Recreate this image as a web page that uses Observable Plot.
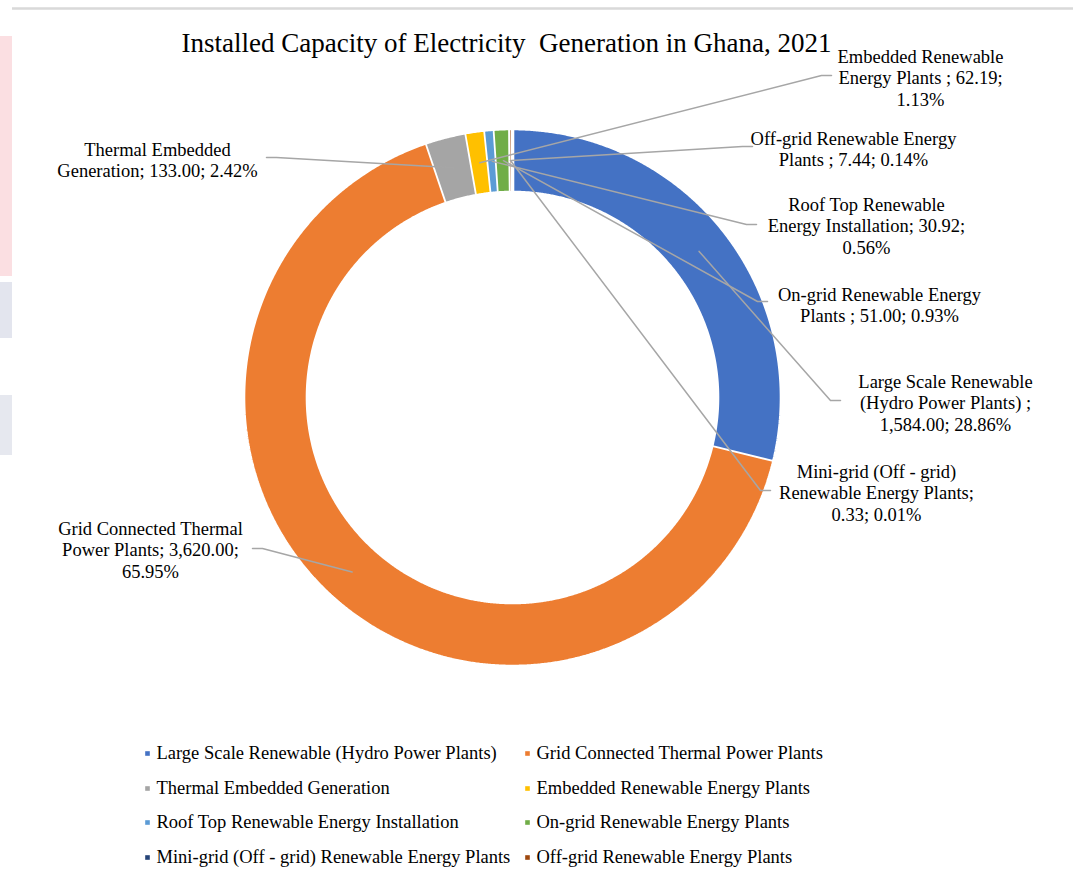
<!DOCTYPE html>
<html>
<head>
<meta charset="utf-8">
<script src="https://cdn.jsdelivr.net/npm/d3@7"></script>
<script src="https://cdn.jsdelivr.net/npm/@observablehq/plot@0.6"></script>
<style>
  html, body { margin: 0; padding: 0; background: #fff; }
  #wrap { position: relative; width: 1073px; height: 880px; overflow: hidden; }
  .wm { position: absolute; left: 0; width: 12px; }
</style>
</head>
<body>
<div id="wrap">
  <div class="wm" style="top:36px;height:240px;background:#fbdfe2;"></div>
  <div class="wm" style="top:282px;height:56px;background:#e3e5ee;"></div>
  <div class="wm" style="top:395px;height:60px;background:#e6e8ef;"></div>
  <div id="chart"></div>
</div>
<script>
// ---- data ----
const categories = [
  "Large Scale Renewable (Hydro Power Plants)",
  "Grid Connected Thermal Power Plants",
  "Thermal Embedded Generation",
  "Embedded Renewable Energy Plants",
  "Roof Top Renewable Energy Installation",
  "On-grid Renewable Energy Plants",
  "Mini-grid (Off - grid) Renewable Energy Plants",
  "Off-grid Renewable Energy Plants"
];
const values = [1584.00, 3620.00, 133.00, 62.19, 30.92, 51.00, 0.33, 7.44];
const percents = ["28.86%", "65.95%", "2.42%", "1.13%", "0.56%", "0.93%", "0.01%", "0.14%"];
const colors = ["#4472C4", "#ED7D31", "#A5A5A5", "#FFC000", "#5B9BD5", "#70AD47", "#264478", "#9E480E"];
const labelTexts = [
  "Large Scale Renewable\n(Hydro Power Plants) ;\n1,584.00; 28.86%",
  "Grid Connected Thermal\nPower Plants; 3,620.00;\n65.95%",
  "Thermal Embedded\nGeneration; 133.00; 2.42%",
  "Embedded Renewable\nEnergy Plants ; 62.19;\n1.13%",
  "Roof Top Renewable\nEnergy Installation; 30.92;\n0.56%",
  "On-grid Renewable Energy\nPlants ; 51.00; 0.93%",
  "Mini-grid (Off - grid)\nRenewable Energy Plants;\n0.33; 0.01%",
  "Off-grid Renewable Energy\nPlants ; 7.44; 0.14%"
];
const title = "Installed Capacity of Electricity  Generation in Ghana, 2021";

// ---- layout ----
const W = 1073, H = 880;
const cx = 512, cy = 397, R = 269, r0 = 205;
// label block centre (x, y) and leader attach point (ax, ay), side: +1 right, -1 left
const labelPos = [
  {x: 945, y: 402, ax: 840, ay: 400, side: 1},
  {x: 150, y: 549, ax: 252, ay: 548, side: -1},
  {x: 157, y: 159, ax: 266, ay: 157, side: -1},
  {x: 920, y: 77,  ax: 831, ay: 75,  side: 1},
  {x: 866, y: 225, ax: 756, ay: 224, side: 1},
  {x: 879, y: 304, ax: 767, ay: 301, side: 1},
  {x: 876, y: 492, ax: 770, ay: 490, side: 1},
  {x: 853, y: 148, ax: 752, ay: 146, side: 1}
];
const legendRows = [753, 788, 822, 857];
const legendCols = [147, 527];

// ---- geometry from data ----
const arcs = d3.pie().sort(null).value(d => d)(values);
const pt = (a, rad) => [cx + rad * Math.sin(a), cy - rad * Math.cos(a)];
const slicePts = [];
arcs.forEach((a, i) => {
  const n = Math.max(2, Math.ceil((a.endAngle - a.startAngle) / 0.005));
  for (let k = 0; k <= n; k++) {
    const t = a.startAngle + (a.endAngle - a.startAngle) * k / n;
    const [x, y] = pt(t, R);
    slicePts.push({name: categories[i], x, y});
  }
  for (let k = n; k >= 0; k--) {
    const t = a.startAngle + (a.endAngle - a.startAngle) * k / n;
    const [x, y] = pt(t, r0);
    slicePts.push({name: categories[i], x, y});
  }
});
const leaderPts = [];
arcs.forEach((a, i) => {
  const p = labelPos[i];
  const mid = (a.startAngle + a.endAngle) / 2;
  const [mx, my] = pt(mid, (R + r0) / 2);
  leaderPts.push({id: i, x: p.ax, y: p.ay});
  leaderPts.push({id: i, x: p.ax - p.side * 10, y: p.ay});
  leaderPts.push({id: i, x: mx, y: my});
});
const labels = categories.map((c, i) => ({name: c, text: labelTexts[i], x: labelPos[i].x, y: labelPos[i].y}));
const legend = categories.map((c, i) => ({
  name: c,
  x: legendCols[i % 2],
  y: legendRows[Math.floor(i / 2)]
}));

const chart = Plot.plot({
  width: W, height: H, margin: 0,
  x: {domain: [0, W], range: [0, W], axis: null},
  y: {domain: [0, H], range: [0, H], axis: null},
  color: {domain: categories, range: colors},
  style: {fontFamily: "'Liberation Serif', 'Times New Roman', serif", background: "transparent", color: "#000"},
  marks: [
    Plot.ruleY([8], {x1: 12, x2: W, stroke: "#d9d9d9", strokeWidth: 2.5}),
    Plot.line(slicePts, {x: "x", y: "y", z: "name", fill: "name", stroke: "white", strokeWidth: 3.6, strokeLinejoin: "miter"}),
    Plot.line(leaderPts, {x: "x", y: "y", z: "id", stroke: "#a6a6a6", strokeWidth: 1.5}),
    Plot.text(labels, {x: "x", y: "y", text: "text", fontSize: 18.5, lineHeight: 1.16, textAnchor: "middle", lineAnchor: "middle", fill: "#000"}),
    Plot.text([title], {x: 506, y: 43, text: d => d, fontSize: 27, textAnchor: "middle", fill: "#000"}),
    Plot.dot(legend, {x: "x", y: "y", fill: "name", symbol: "square", r: 2.6}),
    Plot.text(legend, {x: d => d.x + 9, y: "y", text: "name", fontSize: 18.5, textAnchor: "start", fill: "#000"})
  ]
});
chart.style.position = "absolute";
chart.style.left = "0px";
chart.style.top = "0px";
document.getElementById("chart").appendChild(chart);
</script>
</body>
</html>
